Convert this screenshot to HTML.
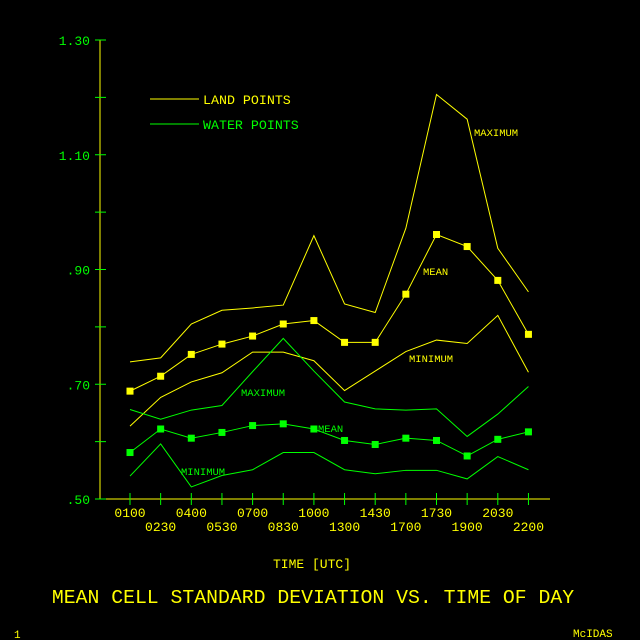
<!DOCTYPE html>
<html><head><meta charset="utf-8"><style>
html,body{margin:0;padding:0;background:#000;}
svg{display:block;}
text{font-family:"Liberation Mono",monospace;}
</style></head><body>
<svg id="chart" width="640" height="640" viewBox="0 0 640 640" xmlns="http://www.w3.org/2000/svg">
<rect width="640" height="640" fill="#000"/>
<g id="axes"></g>
<g id="series"></g>
<g>
<line x1="150" y1="99" x2="199" y2="99" stroke="#ffff00" stroke-width="1"/>
<text x="203" y="104" fill="#ffff00" font-size="13.3">LAND POINTS</text>
<line x1="150" y1="124" x2="199" y2="124" stroke="#00ff00" stroke-width="1"/>
<text x="203" y="129" fill="#00ff00" font-size="13.3">WATER POINTS</text>
</g>
<text x="474" y="136" fill="#ffff00" font-size="10.5">MAXIMUM</text>
<text x="423" y="275" fill="#ffff00" font-size="10.5">MEAN</text>
<text x="409" y="362" fill="#ffff00" font-size="10.5">MINIMUM</text>
<text x="241" y="396" fill="#00ff00" font-size="10.5">MAXIMUM</text>
<text x="318" y="432" fill="#00ff00" font-size="10.5">MEAN</text>
<text x="181" y="475" fill="#00ff00" font-size="10.5">MINIMUM</text>
<text x="312" y="568" fill="#ffff00" font-size="13" text-anchor="middle">TIME [UTC]</text>
<text x="313" y="603" fill="#ffff00" font-size="19.8" text-anchor="middle">MEAN CELL STANDARD DEVIATION VS. TIME OF DAY</text>
<text x="14" y="638" fill="#ffff00" font-size="11">1</text>
<text x="573" y="637" fill="#ffff00" font-size="11">McIDAS</text>
</svg>
<script>
const timeLabels = ["0100","0230","0400","0530","0700","0830","1000","1300","1430","1700","1730","1900","2030","2200"];
const yTickLabels = ["1.30","1.10",".90",".70",".50"];
const yTickValues = [1.30,1.10,0.90,0.70,0.50];
const landMax  = [0.739,0.746,0.805,0.829,0.833,0.838,0.959,0.840,0.825,0.972,1.205,1.162,0.937,0.861];
const landMean = [0.688,0.714,0.752,0.770,0.784,0.805,0.811,0.773,0.773,0.857,0.961,0.940,0.881,0.787];
const landMin  = [0.627,0.677,0.704,0.720,0.756,0.756,0.741,0.689,0.723,0.757,0.777,0.771,0.820,0.721];
const waterMax  = [0.656,0.639,0.655,0.663,0.722,0.780,0.723,0.669,0.657,0.655,0.657,0.609,0.648,0.696];
const waterMean = [0.581,0.622,0.606,0.616,0.628,0.631,0.622,0.602,0.595,0.606,0.602,0.575,0.604,0.617];
const waterMin  = [0.540,0.596,0.521,0.541,0.551,0.581,0.581,0.551,0.544,0.550,0.550,0.535,0.574,0.551];

const NS="http://www.w3.org/2000/svg";
const x0=130, dx=30.65, yBase=499, yTop=40, vMin=0.5, vMax=1.3;
function xScale(i){return x0+i*dx;}
function yScale(v){return yBase-(v-vMin)/(vMax-vMin)*(yBase-yTop);}
function mk(tag,attrs,parent){const e=document.createElementNS(NS,tag);for(const k in attrs)e.setAttribute(k,attrs[k]);parent.appendChild(e);return e;}

const axes=document.getElementById('axes');
const yAxis=mk('line',{x1:100,y1:yTop,x2:100,y2:yBase,stroke:'#ffff00','stroke-width':1},axes);


const xAxis=mk('line',{x1:100,y1:yBase,x2:550,y2:yBase,stroke:'#ffff00','stroke-width':1},axes);


for(let k=0;k<=8;k++){
  const v=vMin+k*0.1;
  const t=mk('line',{x1:95,y1:yScale(v),x2:106,y2:yScale(v),stroke:'#00ff00','stroke-width':1},axes);
  
  
}
yTickLabels.forEach((lab,i)=>{
  const t=mk('text',{x:90,y:yScale(yTickValues[i])+5,fill:'#00ff00','font-size':13,'text-anchor':'end'},axes);
  t.textContent=lab;
  
  
});
timeLabels.forEach((lab,i)=>{
  const x=xScale(i);
  const t=mk('line',{x1:x,y1:yBase-6,x2:x,y2:yBase+6,stroke:'#00ff00','stroke-width':1},axes);
  
  
  const l=mk('text',{x:x,y:(i%2===0?517:531),fill:'#ffff00','font-size':13,'text-anchor':'middle'},axes);
  l.textContent=lab;
  
  
});

const series=document.getElementById('series');
function drawLine(vals,color,name,markers){
  const pts=vals.map((v,i)=>xScale(i)+','+yScale(v)).join(' ');
  const p=mk('polyline',{points:pts,fill:'none',stroke:color,'stroke-width':1},series);
  
  
  if(markers){vals.forEach((v,i)=>{
    const r=mk('rect',{x:xScale(i)-3.5,y:yScale(v)-3.5,width:7,height:7,fill:color},series);
    
    
  });}
}
drawLine(landMax,'#ffff00','land-maximum-line',false);
drawLine(landMean,'#ffff00','land-mean-line',true);
drawLine(landMin,'#ffff00','land-minimum-line',false);
drawLine(waterMax,'#00ff00','water-maximum-line',false);
drawLine(waterMean,'#00ff00','water-mean-line',true);
drawLine(waterMin,'#00ff00','water-minimum-line',false);
</script>
</body></html>
